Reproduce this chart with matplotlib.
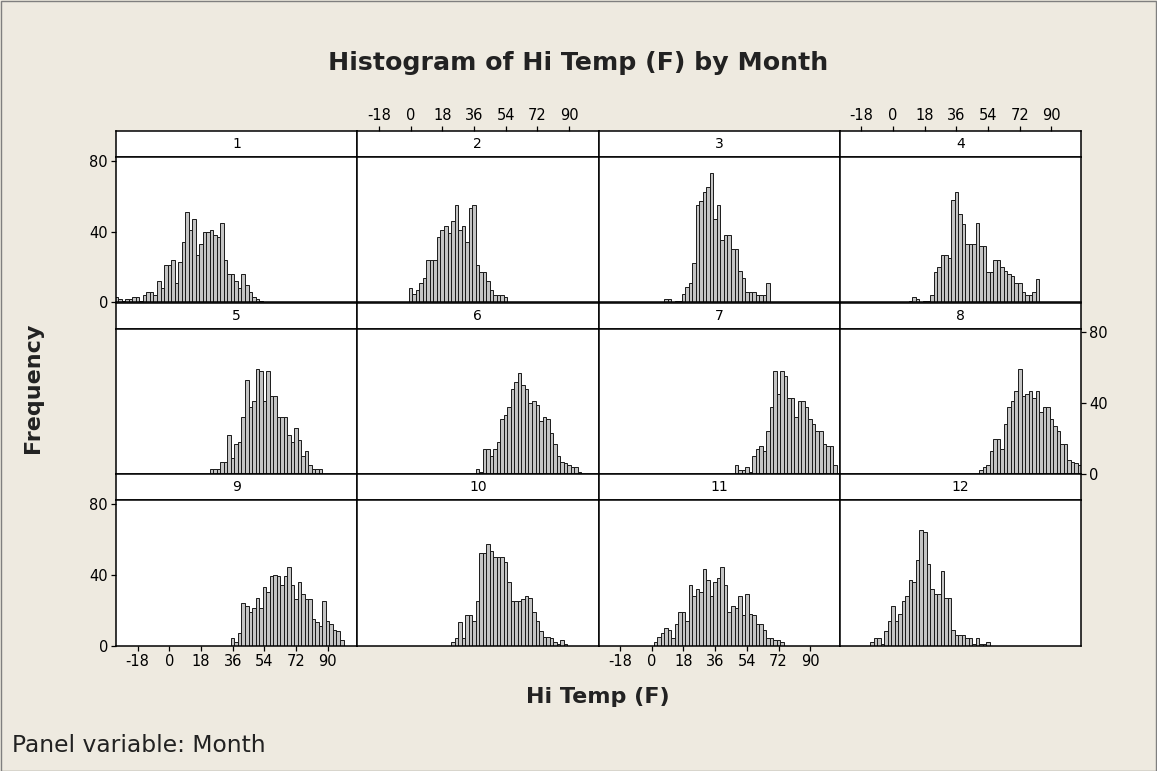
import matplotlib
matplotlib.use("Agg")
import matplotlib.pyplot as plt
from matplotlib.patches import Rectangle

# ---------------- data (frequency per 2-degree bin, bin centres) ----------------
bin_width = 2
x_ticks = [-18, 0, 18, 36, 54, 72, 90]
y_ticks = [0, 40, 80]
x_range = (-30.3, 106.8)
y_range = (0, 82)

m1_first = -30
m1 = [3, 2, 1, 2, 2, 3, 3, 1, 4, 6, 6, 4, 12, 8, 21, 21, 24, 11, 23, 34, 51, 41, 47, 27,
      33, 40, 40, 41, 38, 37, 45, 24, 16, 16, 12, 8, 16, 10, 6, 3, 2, 1]
m2_first = 0
m2 = [8, 5, 7, 11, 14, 24, 24, 24, 37, 41, 43, 39, 46, 55, 41, 43, 34, 53, 55, 21, 17, 17,
      12, 7, 4, 4, 4, 3]
m3_first = 8
m3 = [2, 2, 0, 1, 1, 5, 9, 11, 22, 55, 57, 62, 65, 73, 47, 55, 35, 38, 38, 30, 30, 18, 14,
      6, 6, 6, 4, 4, 4, 11]
m4_first = 10
m4 = [1, 3, 2, 0, 1, 1, 4, 17, 20, 27, 27, 25, 58, 62, 50, 44, 33, 33, 33, 45, 32, 32, 17,
      17, 24, 24, 20, 18, 16, 15, 11, 11, 6, 4, 4, 6, 13]
m5_first = 24
m5 = [3, 3, 3, 7, 7, 22, 9, 17, 18, 32, 53, 38, 41, 59, 58, 41, 58, 44, 44, 32, 32, 32, 22,
      18, 26, 19, 10, 13, 5, 3, 3, 3]
m6_first = 38
m6 = [3, 1, 14, 14, 10, 14, 18, 31, 33, 38, 48, 52, 57, 50, 48, 40, 41, 39, 30, 32, 31, 23,
      17, 10, 7, 6, 5, 4, 4, 1]
m7_first = 48
m7 = [5, 2, 2, 4, 1, 10, 14, 16, 13, 24, 38, 58, 45, 58, 55, 43, 43, 32, 41, 41, 38, 31, 28,
      24, 24, 17, 16, 16, 5]
m8_first = 50
m8 = [2, 4, 5, 13, 20, 20, 14, 28, 38, 41, 47, 59, 44, 45, 47, 43, 47, 35, 38, 38, 31, 27,
      24, 17, 17, 8, 7, 6, 5]
m9_first = 36
m9 = [4, 2, 7, 24, 22, 19, 21, 27, 21, 33, 30, 39, 40, 39, 34, 39, 44, 34, 26, 36, 29, 26,
      26, 15, 13, 11, 25, 14, 12, 9, 8, 3]
m10_first = 24
m10 = [2, 4, 13, 4, 17, 17, 14, 25, 52, 52, 57, 53, 50, 50, 50, 47, 36, 25, 25, 25, 26, 28,
       27, 19, 14, 8, 5, 5, 4, 2, 1, 3, 1]
m11_first = 2
m11 = [2, 5, 7, 10, 9, 4, 12, 19, 19, 14, 34, 28, 32, 30, 43, 37, 28, 36, 38, 44, 34, 19,
       22, 21, 28, 17, 29, 18, 17, 12, 12, 9, 4, 4, 3, 3, 2]
m12_first = -12
m12 = [2, 4, 4, 1, 8, 14, 22, 14, 18, 25, 28, 37, 36, 48, 65, 64, 46, 32, 29, 29, 42, 27,
       27, 9, 6, 6, 6, 4, 4, 1, 4, 1, 1, 2]

months = ["1", "2", "3", "4", "5", "6", "7", "8", "9", "10", "11", "12"]
firsts = [m1_first, m2_first, m3_first, m4_first, m5_first, m6_first,
          m7_first, m8_first, m9_first, m10_first, m11_first, m12_first]
counts = [m1, m2, m3, m4, m5, m6, m7, m8, m9, m10, m11, m12]

# ---------------- layout ----------------
W, H = 1157, 771
fig = plt.figure(figsize=(W / 100, H / 100), dpi=100)
bg = "#EEEAE0"
fig.patch.set_facecolor(bg)

# outer frame
fig.add_artist(Rectangle((0.5 / W, 0.5 / H), 1 - 1.5 / W, 1 - 1.5 / H,
                         transform=fig.transFigure, fill=False,
                         edgecolor="#7f7f7f", linewidth=1.0))

left_px, right_px = 116, 1081
top_px = 131
row_h = 171.5
strip_h = 26
col_w = (right_px - left_px) / 4


def rect(x0, y0, w, h):
    return [x0 / W, 1 - (y0 + h) / H, w / W, h / H]


tick_len = 3.8
label_size = 10.5

for i, (name, first, cnt) in enumerate(zip(months, firsts, counts)):
    r, c = divmod(i, 4)
    x0 = left_px + c * col_w
    y0 = top_px + r * row_h
    # strip
    sax = fig.add_axes(rect(x0, y0, col_w, strip_h))
    sax.set_facecolor("white")
    sax.set_xlim(*x_range)
    sax.set_ylim(0, 1)
    sax.set_yticks([])
    sax.text(0.5, 0.5, name, transform=sax.transAxes, ha="center", va="center",
             fontsize=10, color="black")
    for sp in sax.spines.values():
        sp.set_linewidth(1.1)
    if r == 0 and c in (1, 3):
        sax.xaxis.tick_top()
        sax.set_xticks(x_ticks)
        sax.set_xticklabels([str(t) for t in x_ticks])
        sax.tick_params(axis="x", direction="out", length=tick_len, width=0.9,
                        labelsize=label_size, pad=2)
    else:
        sax.set_xticks([])

    # plot panel
    ax = fig.add_axes(rect(x0, y0 + strip_h, col_w, row_h - strip_h))
    ax.set_facecolor("white")
    centers = [first + bin_width * k for k in range(len(cnt))]
    ax.bar(centers, cnt, width=bin_width, color="#C4C4C4", edgecolor="#1a1a1a",
           linewidth=0.7, align="center")
    ax.set_xlim(*x_range)
    ax.set_ylim(*y_range)
    for sp in ax.spines.values():
        sp.set_linewidth(1.1)

    if r == 2 and c in (0, 2):
        ax.set_xticks(x_ticks)
        ax.set_xticklabels([str(t) for t in x_ticks])
        ax.tick_params(axis="x", direction="out", length=tick_len, width=0.9,
                       labelsize=label_size, pad=2)
    else:
        ax.set_xticks([])

    if c == 0 and r in (0, 2):
        ax.set_yticks(y_ticks)
        ax.set_yticklabels([str(t) for t in y_ticks])
        ax.tick_params(axis="y", direction="out", length=tick_len, width=0.9,
                       labelsize=label_size, pad=2)
    elif c == 3 and r == 1:
        ax.yaxis.tick_right()
        ax.set_yticks(y_ticks)
        ax.set_yticklabels([str(t) for t in y_ticks])
        ax.tick_params(axis="y", direction="out", length=tick_len, width=0.9,
                       labelsize=label_size, pad=2)
    else:
        ax.set_yticks([])

# texts
fig.text(0.5, 1 - 63 / H, "Histogram of Hi Temp (F) by Month", ha="center",
         va="center", fontsize=18.2, fontweight="bold", color="#222222")
fig.text(33 / W, 1 - 388 / H, "Frequency", rotation=90, ha="center", va="center",
         fontsize=16, fontweight="bold", color="#222222")
fig.text(598 / W, 1 - 697 / H, "Hi Temp (F)", ha="center", va="center",
         fontsize=16, fontweight="bold", color="#222222")
fig.text(12 / W, 1 - 745 / H, "Panel variable: Month", ha="left", va="center",
         fontsize=16.8, color="#222222")

fig.savefig("out.png", dpi=100, facecolor=fig.get_facecolor())
